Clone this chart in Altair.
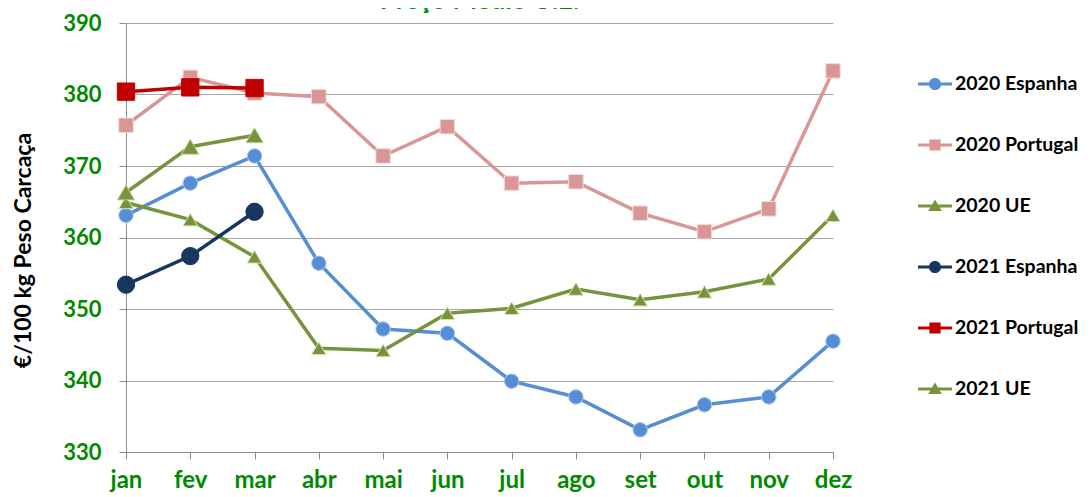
import altair as alt
import pandas as pd

months = ["jan", "fev", "mar", "abr", "mai", "jun", "jul", "ago", "set", "out", "nov", "dez"]
series_names = ["2020 Espanha", "2020 Portugal", "2020 UE", "2021 Espanha", "2021 Portugal", "2021 UE"]
series_years = ["2020", "2020", "2020", "2021", "2021", "2021"]
series_markers = ["circle", "square", "triangle-up", "circle", "square", "triangle-up"]

esp_2020 = [363.1, 367.6, 371.4, 356.4, 347.2, 346.6, 339.9, 337.7, 333.1, 336.6, 337.7, 345.5]
por_2020 = [375.7, 382.4, 380.2, 379.7, 371.4, 375.5, 367.6, 367.8, 363.4, 360.8, 364.0, 383.3]
ue_2020 = [364.9, 362.5, 357.3, 344.5, 344.2, 349.4, 350.1, 352.8, 351.3, 352.4, 354.2, 363.1]
esp_2021 = [353.4, 357.4, 363.6]
por_2021 = [380.4, 381.0, 380.9]
ue_2021 = [366.3, 372.7, 374.3]

series_values = [esp_2020, por_2020, ue_2020, esp_2021, por_2021, ue_2021]

line_colors = ["#558ED5", "#D99694", "#77933C", "#17375E", "#C00000", "#77933C"]
outline_colors = ["#A9C6EC", "#F2DCDB", "#D7E4BD", "#17375E", "#C00000", "#C3D69B"]

# legend symbols: line segment + marker
p_line = "M-1,-0.09H1V0.09H-1Z "
legend_paths = [
    p_line + "M0.36,0A0.36,0.36,0,1,1,-0.36,0A0.36,0.36,0,1,1,0.36,0Z",
    p_line + "M-0.33,-0.33H0.33V0.33H-0.33Z",
    p_line + "M0,-0.38L0.4,0.3H-0.4Z",
    p_line + "M0.36,0A0.36,0.36,0,1,1,-0.36,0A0.36,0.36,0,1,1,0.36,0Z",
    p_line + "M-0.33,-0.33H0.33V0.33H-0.33Z",
    p_line + "M0,-0.38L0.4,0.3H-0.4Z",
]

rows = []
for name, yr, mk, vals in zip(series_names, series_years, series_markers, series_values):
    for m, v in zip(months, vals):
        rows.append({"series": name, "year": yr, "marker": mk, "month": m, "value": v})
df = pd.DataFrame(rows)

GREEN = "#008A00"
FONT = "Lato"

x_enc = alt.X(
    "month:N",
    sort=months,
    scale=alt.Scale(type="point", domain=months, padding=0),
    axis=alt.Axis(
        title=None,
        labelFont=FONT, labelFontSize=24, labelFontWeight="bold", labelColor=GREEN,
        labelPadding=9, labelAngle=0,
        domainColor="#8C8C8C", tickColor="#8C8C8C", tickSize=7, grid=False,
    ),
)
y_enc = alt.Y(
    "value:Q",
    scale=alt.Scale(domain=[330, 390], nice=False, zero=False),
    axis=alt.Axis(
        title="€/100 kg Peso Carcaça",
        values=[330, 340, 350, 360, 370, 380, 390],
        labelFont=FONT, labelFontSize=22, labelFontWeight="bold", labelColor=GREEN,
        labelPadding=18,
        domainColor="#8C8C8C", tickColor="#8C8C8C", tickSize=7,
        grid=True, gridColor="#A6A6A6", gridWidth=1,
        titleFont=FONT, titleFontSize=23, titleFontWeight="bold", titleColor="black",
        titleX=-103, titleY=227, titleAngle=270, titleAlign="center", titleBaseline="middle",
    ),
)

color_scale = alt.Scale(domain=series_names, range=line_colors)

leg = alt.Legend(
    title=None, orient="none", legendX=792, legendY=44,
    symbolSize=1156, symbolStrokeWidth=0, symbolOpacity=1,
    labelFont=FONT, labelFontSize=19.5, labelFontWeight="bold", labelColor="black",
    labelOffset=3, rowPadding=34, padding=0, labelLimit=300,
)

legend_layer = alt.Chart(df).transform_filter("false").mark_point(filled=True, opacity=1).encode(
    x=x_enc, y=y_enc,
    color=alt.Color("series:N", scale=color_scale, legend=leg),
    shape=alt.Shape("series:N", scale=alt.Scale(domain=series_names, range=legend_paths), legend=leg),
)

lines = alt.Chart(df).mark_line(strokeWidth=3.5).encode(
    x=x_enc, y=y_enc,
    color=alt.Color("series:N", scale=color_scale, legend=None),
)

points = alt.Chart(df).mark_point(filled=True, opacity=1, strokeWidth=1).encode(
    x=x_enc, y=y_enc,
    color=alt.Color("series:N", scale=color_scale, legend=None),
    stroke=alt.Stroke("series:N", scale=alt.Scale(domain=series_names, range=outline_colors), legend=None),
    shape=alt.Shape("marker:N", scale=None),
    size=alt.Size("year:N", scale=alt.Scale(domain=["2020", "2021"], range=[210, 300]), legend=None),
)

chart = alt.layer(legend_layer, lines, points).properties(
    width=707, height=429,
    title=alt.TitleParams(
        text="Preço Médio U.E.", font=FONT, fontSize=26, fontWeight="bold", color=GREEN,
        anchor="middle", frame="group", offset=2, dy=4,
    ),
    autosize=alt.AutoSizeParams(type="none"),
    padding={"left": 118, "top": 15, "right": 250, "bottom": 45},
    background="white",
).configure_view(stroke=None)

chart.save("out.html", embed_options={"renderer": "svg", "actions": False})
